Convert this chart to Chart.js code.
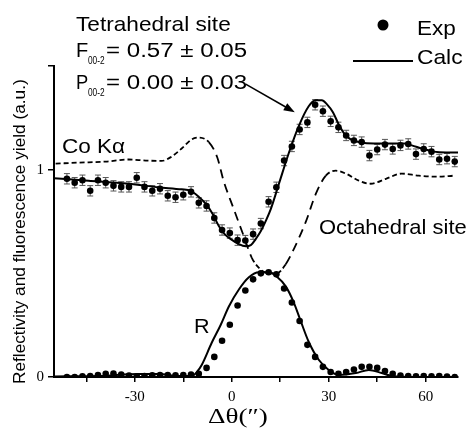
<!DOCTYPE html>
<html>
<head>
<meta charset="utf-8">
<script src="https://cdn.jsdelivr.net/npm/chart.js"></script>
<style>
  html, body { margin: 0; padding: 0; background: #fff; }
  canvas { display: block; }
</style>
</head>
<body>
<canvas id="c" width="470" height="439"></canvas>
<script>
// measured angle offsets (arcsec), shared by both experimental scans
const expTheta = [-51.0, -48.6, -46.2, -43.8, -41.4, -39.0, -36.6, -34.2, -31.8, -29.4,
  -27.0, -24.6, -22.2, -19.8, -17.4, -15.0, -12.6, -10.2, -7.8, -5.4,
  -3.0, -0.6, 1.8, 4.2, 6.6, 9.0, 11.4, 13.8, 16.2, 18.6,
  21.0, 23.4, 25.8, 28.2, 30.6, 33.0, 35.4, 37.8, 40.2, 42.6,
  45.0, 47.4, 49.8, 52.2, 54.6, 57.0, 59.4, 61.8, 64.2, 66.6, 69.0];

// Co K-alpha fluorescence yield (Exp)
const fluoExp = [0.956, 0.937, 0.949, 0.898, 0.949, 0.937, 0.922, 0.917, 0.917, 0.961,
  0.917, 0.898, 0.908, 0.874, 0.867, 0.879, 0.893, 0.840, 0.825, 0.767,
  0.709, 0.694, 0.660, 0.658, 0.689, 0.740, 0.845, 0.915, 1.044, 1.112,
  1.194, 1.228, 1.313, 1.282, 1.233, 1.204, 1.165, 1.141, 1.133, 1.068,
  1.097, 1.121, 1.100, 1.117, 1.124, 1.075, 1.100, 1.087, 1.049, 1.053, 1.039];
const fluoErr = 0.025;

// reflectivity (Exp)
const reflExp = [0.0, 0.0, 0.003, 0.005, 0.010, 0.015, 0.017, 0.012, 0.007, 0.003,
  0.005, 0.008, 0.010, 0.010, 0.008, 0.010, 0.012, 0.015, 0.044, 0.097,
  0.175, 0.252, 0.345, 0.417, 0.471, 0.500, 0.505, 0.495, 0.427, 0.359,
  0.270, 0.155, 0.097, 0.049, 0.024, 0.015, 0.024, 0.036, 0.049, 0.049,
  0.044, 0.029, 0.015, 0.007, 0.005, 0.003, 0.004, 0.003, 0.004, 0.002, 0.0];

// calculated yield, tetrahedral site (Calc)
const tetraTheta = [-55.0, -44.3, -31.9, -22.6, -15.5, -12.7, -10.2, -8.0, -5.9, -4.0,
  -2.2, -0.3, 2.2, 4.3, 5.9, 7.4, 9.0, 10.5, 12.1, 14.6,
  17.6, 20.7, 23.8, 26.0, 27.9, 29.4, 31.3, 33.1, 35.0, 36.8,
  39.9, 44.0, 49.5, 53.3, 55.7, 58.8, 62.5, 66.3, 70.0];
const tetraCalc = [0.959, 0.947, 0.932, 0.915, 0.905, 0.898, 0.869, 0.835, 0.786, 0.728,
  0.689, 0.665, 0.641, 0.631, 0.636, 0.665, 0.704, 0.752, 0.811, 0.932,
  1.078, 1.209, 1.306, 1.335, 1.335, 1.316, 1.277, 1.218, 1.170, 1.146,
  1.131, 1.126, 1.126, 1.126, 1.117, 1.102, 1.087, 1.083, 1.083];

// calculated yield, octahedral site
const octaTheta = [-54.5, -47.4, -39.0, -31.9, -26.6, -21.7, -18.6, -15.5, -12.4, -10.2,
  -7.1, -4.5, -2.5, 0.6, 3.7, 6.2, 8.5, 11.5, 13.9, 16.7,
  19.2, 22.9, 26.0, 29.1, 32.2, 35.3, 39.3, 43.0, 47.7, 52.6,
  57.9, 64.1, 68.7];
const octaCalc = [1.029, 1.034, 1.039, 1.049, 1.044, 1.042, 1.063, 1.102, 1.146, 1.155,
  1.133, 1.060, 0.945, 0.811, 0.680, 0.575, 0.525, 0.500, 0.500, 0.544,
  0.617, 0.748, 0.883, 0.971, 0.995, 0.981, 0.947, 0.932, 0.956, 0.981,
  0.971, 0.966, 0.971];

// calculated reflectivity
const reflTheta = [-55.0, -41.2, -28.8, -22.6, -16.4, -12.4, -10.8, -9.3, -6.2, -3.4,
  -0.9, 2.2, 5.3, 8.4, 11.5, 13.9, 16.7, 19.2, 21.4, 23.8,
  26.9, 30.0, 33.1, 38.4, 42.4, 46.4, 49.5, 57.9, 70.0];
const reflCalc = [0.003, 0.005, 0.015, 0.015, 0.005, 0.005, 0.024, 0.058, 0.165, 0.252,
  0.340, 0.422, 0.481, 0.505, 0.505, 0.485, 0.437, 0.359, 0.267, 0.170,
  0.083, 0.034, 0.010, 0.019, 0.034, 0.019, 0.005, 0.0, 0.0];

const xTicks = [-45, -30, -15, 0, 15, 30, 45, 60];
const xLabels = [-30, 0, 30, 60];
const yTicks = [0, 1, 1.5];
const yLabels = [0, 1];

const SANS = "'Liberation Sans', Arial, Helvetica, sans-serif";
const SERIF = "'Liberation Serif', 'Times New Roman', serif";

function pts(xs, ys) {
    return xs.map((x, i) => ({ x: x, y: ys[i] }));
}

// draw text so that its ink spans exactly [x, x + width]
function fitText(ctx, str, x, y, width, font) {
    ctx.font = font;
    const m = ctx.measureText(str);
    const ink = m.actualBoundingBoxLeft + m.actualBoundingBoxRight;
    const s = width / ink;
    ctx.save();
    ctx.translate(x + m.actualBoundingBoxLeft * s, y);
    ctx.scale(s, 1);
    ctx.fillText(str, 0, 0);
    ctx.restore();
}

const errorBars = {
    id: 'errorBars',
    beforeDatasetsDraw(chart) {
        const { ctx, scales: { x, y } } = chart;
        ctx.save();
        ctx.strokeStyle = '#555';
        ctx.lineWidth = 1;
        expTheta.forEach((t, i) => {
            const px = x.getPixelForValue(t);
            const top = y.getPixelForValue(fluoExp[i] + fluoErr);
            const bot = y.getPixelForValue(fluoExp[i] - fluoErr);
            ctx.beginPath();
            ctx.moveTo(px, top); ctx.lineTo(px, bot);
            ctx.moveTo(px - 3, top); ctx.lineTo(px + 3, top);
            ctx.moveTo(px - 3, bot); ctx.lineTo(px + 3, bot);
            ctx.stroke();
        });
        ctx.restore();
    }
};

const annotations = {
    id: 'annotations',
    afterDraw(chart) {
        const { ctx, scales: { x, y } } = chart;
        ctx.save();
        ctx.fillStyle = '#000';
        ctx.strokeStyle = '#000';
        ctx.textBaseline = 'alphabetic';
        ctx.textAlign = 'left';

        fitText(ctx, 'Tetrahedral site', 76, 31, 154, '21px ' + SANS);
        fitText(ctx, 'F', 77, 57, 11, '20px ' + SANS);
        fitText(ctx, '00-2', 88, 64, 17, '10px ' + SANS);
        fitText(ctx, '= 0.57 \u00b1 0.05', 106, 57, 141, '20px ' + SANS);
        fitText(ctx, 'P', 77, 89, 11, '20px ' + SANS);
        fitText(ctx, '00-2', 88, 96, 17, '10px ' + SANS);
        fitText(ctx, '= 0.00 \u00b1 0.03', 106, 89, 141, '20px ' + SANS);

        fitText(ctx, 'Co K\u03b1', 63, 153, 62, '21px ' + SANS);
        fitText(ctx, 'Octahedral site', 320, 234, 146, '21px ' + SANS);
        fitText(ctx, 'R', 195, 333, 14, '20px ' + SANS);

        // legend
        ctx.beginPath();
        ctx.arc(383, 25, 5.5, 0, Math.PI * 2);
        ctx.fill();
        fitText(ctx, 'Exp', 418, 35, 37, '21px ' + SANS);
        ctx.lineWidth = 2;
        ctx.beginPath();
        ctx.moveTo(353, 61); ctx.lineTo(413, 61);
        ctx.stroke();
        fitText(ctx, 'Calc', 418, 64, 44, '21px ' + SANS);

        // arrow pointing at the tetrahedral curve
        const x0 = x.getPixelForValue(4.3), y0 = y.getPixelForValue(1.413);
        const x1 = x.getPixelForValue(19.5), y1 = y.getPixelForValue(1.277);
        const a = Math.atan2(y1 - y0, x1 - x0);
        ctx.lineWidth = 1.5;
        ctx.beginPath();
        ctx.moveTo(x0, y0);
        ctx.lineTo(x1 - 8 * Math.cos(a), y1 - 8 * Math.sin(a));
        ctx.stroke();
        ctx.beginPath();
        ctx.moveTo(x1, y1);
        ctx.lineTo(x1 - 11 * Math.cos(a) + 4 * Math.sin(a), y1 - 11 * Math.sin(a) - 4 * Math.cos(a));
        ctx.lineTo(x1 - 11 * Math.cos(a) - 4 * Math.sin(a), y1 - 11 * Math.sin(a) + 4 * Math.cos(a));
        ctx.closePath();
        ctx.fill();

        // axis titles
        fitText(ctx, '\u0394\u03b8(\u2033)', 208, 423, 59, '20px ' + SERIF);
        ctx.save();
        ctx.translate(25, 383);
        ctx.rotate(-Math.PI / 2);
        fitText(ctx, 'Reflectivity and fluorescence yield (a.u.)', 0, 0, 303, '17px ' + SANS);
        ctx.restore();

        ctx.restore();
    }
};

const dotStyle = {
    showLine: false,
    pointRadius: 3.3,
    pointBackgroundColor: '#000',
    pointBorderWidth: 0
};
const lineStyle = {
    showLine: true,
    pointRadius: 0,
    borderColor: '#000',
    borderWidth: 2,
    cubicInterpolationMode: 'monotone',
    fill: false
};

new Chart(document.getElementById('c'), {
    type: 'scatter',
    data: {
        datasets: [
            Object.assign({ label: 'Exp', data: pts(expTheta, fluoExp) }, dotStyle),
            Object.assign({ label: 'Exp R', data: pts(expTheta, reflExp) }, dotStyle),
            Object.assign({ label: 'Calc', data: pts(tetraTheta, tetraCalc) }, lineStyle),
            Object.assign({ label: 'Octahedral site', data: pts(octaTheta, octaCalc) }, lineStyle, {
                borderWidth: 1.8,
                segment: {
                    // steep parts of the curve show longer dashes
                    borderDash: c => {
                        const dx = Math.abs(c.p1.x - c.p0.x);
                        const dy = Math.abs(c.p1.y - c.p0.y);
                        return dy > 1.5 * dx ? [9, 6] : [5, 3];
                    }
                }
            }),
            Object.assign({ label: 'Calc R', data: pts(reflTheta, reflCalc) }, lineStyle)
        ]
    },
    options: {
        responsive: false,
        animation: false,
        devicePixelRatio: 1,
        events: [],
        layout: { padding: { top: 66, right: 12, left: 0, bottom: 0 } },
        plugins: {
            legend: { display: false },
            tooltip: { enabled: false }
        },
        scales: {
            x: {
                type: 'linear',
                min: -55,
                max: 70,
                afterFit: s => { s.height = 62; },
                afterBuildTicks: s => { s.ticks = xTicks.map(v => ({ value: v })); },
                ticks: {
                    callback: v => xLabels.includes(v) ? String(v) : '',
                    font: { family: SERIF, size: 15 },
                    color: '#000',
                    padding: 6,
                    maxRotation: 0,
                    autoSkip: false
                },
                grid: { drawOnChartArea: false, drawTicks: true, tickLength: 5, color: '#000', lineWidth: 1.5 },
                border: { color: '#000', width: 2 }
            },
            y: {
                type: 'linear',
                min: 0,
                max: 1.5,
                afterFit: s => { s.width = 54; },
                afterBuildTicks: s => { s.ticks = yTicks.map(v => ({ value: v })); },
                ticks: {
                    callback: v => yLabels.includes(v) ? String(v) : '',
                    font: { family: SERIF, size: 15 },
                    color: '#000',
                    padding: 4,
                    autoSkip: false
                },
                grid: { drawOnChartArea: false, drawTicks: true, tickLength: 6, color: '#000', lineWidth: 1.5 },
                border: { color: '#000', width: 2 }
            }
        }
    },
    plugins: [errorBars, annotations]
});
</script>
</body>
</html>
